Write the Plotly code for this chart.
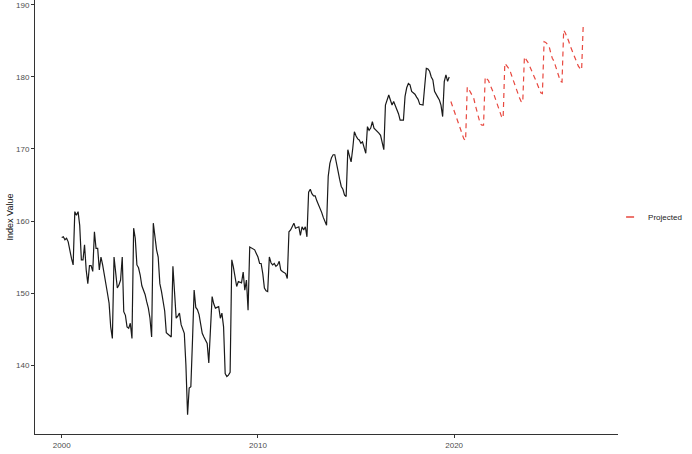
import pandas as pd
import plotly.graph_objects as go

# Historical monthly index values, Jan 2000 - Oct 2019
hist_values = [
    157.7, 157.8, 157.4, 157.6, 157.1, 155.7, 154.8, 153.9, 161.3, 160.8, 161.3, 159.4,  # 2000
    154.6, 154.6, 156.7, 153.2, 151.3, 153.8, 153.8, 153.0, 158.5, 156.2, 156.2, 153.2,  # 2001
    155.0, 153.9, 152.5, 151.2, 150.0, 148.6, 145.3, 143.7, 155.0, 152.9, 150.7, 151.1,  # 2002
    151.8, 155.0, 147.4, 146.9, 145.3, 145.1, 145.8, 143.7, 159.0, 157.6, 153.9, 153.5,  # 2003
    152.5, 151.0, 150.5, 149.8, 148.8, 147.9, 146.5, 143.9, 159.7, 157.5, 156.0, 155.0,  # 2004
    151.3, 150.2, 149.0, 147.5, 144.5, 144.3, 144.2, 143.9, 153.7, 149.5, 146.5, 146.8,  # 2005
    147.2, 145.6, 145.0, 144.4, 140.0, 133.1, 136.8, 137.0, 143.5, 150.4, 148.0, 147.7,  # 2006
    147.0, 145.7, 144.4, 143.9, 143.4, 143.0, 140.3, 146.0, 149.5, 148.5, 147.9, 148.0,  # 2007
    148.1, 146.5, 147.2, 145.3, 138.8, 138.4, 138.6, 139.0, 154.6, 153.6, 152.3, 150.9,  # 2008
    151.6, 151.5, 151.4, 152.9, 150.4, 151.8, 147.6, 156.4, 156.3, 156.1, 156.0, 155.5,  # 2009
    155.0, 154.1, 154.1, 152.7, 150.7, 150.3, 150.2, 155.0, 154.2, 153.9, 154.1, 153.7,  # 2010
    153.9, 154.4, 153.2, 153.0, 152.9, 152.7, 152.0, 158.5, 158.75, 159.2, 159.7, 159.0,  # 2011
    159.1, 159.2, 158.0, 159.2, 158.75, 159.2, 157.8, 164.0, 164.4, 163.8, 163.5, 163.5,  # 2012
    162.8, 162.3, 161.8, 161.2, 160.5, 159.9, 159.4, 166.2, 168.0, 168.8, 169.2, 169.2,  # 2013
    168.2, 166.9, 165.8, 164.8, 164.4, 163.6, 163.4, 169.9, 169.0, 168.2, 170.1, 172.4,  # 2014
    171.8, 171.4, 171.25, 170.8, 171.0, 170.0, 169.4, 173.1, 172.6, 172.9, 173.8, 172.9,  # 2015
    172.7, 172.5, 172.2, 171.9, 171.0, 169.9, 176.1, 177.0, 177.5, 176.8, 176.1, 176.6,  # 2016
    176.0, 175.4, 174.9, 174.0, 174.0, 174.0, 177.3, 178.5, 179.1, 178.9, 178.0, 177.8,  # 2017
    177.6, 177.2, 176.9, 176.2, 176.1, 176.1, 178.65, 181.2, 181.1, 180.8, 180.0, 179.6,  # 2018
    178.0, 177.5, 177.2, 176.8, 176.1, 174.5, 179.35, 180.3, 179.4, 180.0,              # 2019
]

# Projected monthly values, Nov 2019 - Aug 2026
proj_values = [
    176.6, 176.0,
    175.3, 174.6, 174.0, 173.3, 172.7, 172.0, 171.4, 171.2, 178.6, 178.3, 177.9, 177.5,
    177.0, 176.0, 175.2, 174.2, 173.5, 173.3, 173.3, 180.0, 179.8, 179.5, 178.9, 178.4,
    177.8, 177.1, 176.5, 175.9, 175.2, 174.5, 174.3, 181.9, 181.6, 181.3, 181.0, 180.3,
    179.6, 179.0, 178.3, 177.7, 177.1, 176.6, 176.5, 182.8, 182.5, 182.1, 181.6, 181.0,
    180.5, 180.0, 179.5, 178.9, 178.3, 177.8, 177.7, 184.9, 184.8, 184.6, 184.3, 183.4,
    182.6, 182.2, 181.6, 180.9, 180.2, 179.4, 179.3, 186.5, 186.1, 185.6, 185.0, 184.3,
    183.7, 183.1, 182.5, 181.9, 181.5, 181.2, 181.0, 187.5,
]

hist_dates = pd.date_range("2000-01-01", periods=len(hist_values), freq="MS")
proj_dates = pd.date_range("2019-11-01", periods=len(proj_values), freq="MS")

x_tick_vals = ["2000-01-01", "2010-01-01", "2020-01-01"]
x_tick_text = ["2000", "2010", "2020"]
y_tick_vals = [140, 150, 160, 170, 180, 190]

RED = "#E8483F"
FONT = "Liberation Sans, Arial, sans-serif"

fig = go.Figure()
fig.add_trace(go.Scatter(
    x=hist_dates, y=hist_values, mode="lines",
    line=dict(color="#1a1a1a", width=1.2),
    showlegend=False, name="Historical",
))
fig.add_trace(go.Scatter(
    x=proj_dates, y=proj_values, mode="lines",
    line=dict(color=RED, width=1.2, dash="5px,4px"),
    showlegend=False, name="Projected", legendgroup="proj",
))
# legend key (short single dash like the reference)
fig.add_trace(go.Scatter(
    x=[None], y=[None], mode="lines",
    line=dict(color=RED, width=1.3, dash="0px,13px,8px,40px"),
    showlegend=True, name="Projected", legendgroup="proj",
))

fig.update_layout(
    width=692, height=454,
    margin=dict(l=35, r=74, t=0, b=20),
    paper_bgcolor="white", plot_bgcolor="white",
    font=dict(family=FONT, size=8, color="#4d4d4d"),
    legend=dict(
        x=0.983, xanchor="left", y=0.5, yanchor="middle",
        bgcolor="rgba(0,0,0,0)", font=dict(size=8, color="#222"),
    ),
    xaxis=dict(
        range=["1998-08-22", "2028-05-08"],
        tickvals=x_tick_vals, ticktext=x_tick_text,
        showgrid=False, zeroline=False,
        showline=True, linecolor="#333", linewidth=1,
        ticks="outside", ticklen=3, tickcolor="#333",
        tickfont=dict(size=8, color="#4d4d4d"),
    ),
    yaxis=dict(
        range=[130.42, 190.69],
        tickvals=y_tick_vals,
        showgrid=False, zeroline=False,
        showline=True, linecolor="#333", linewidth=1,
        ticks="outside", ticklen=3, tickcolor="#333",
        tickfont=dict(size=8, color="#4d4d4d"),
        title=dict(text="Index Value", font=dict(size=9, color="#111"), standoff=0),
    ),
)

fig.write_html(
    "out.html",
    config={"displayModeBar": False},
    post_script="document.body.style.margin='0';document.body.style.overflow='hidden';",
)
